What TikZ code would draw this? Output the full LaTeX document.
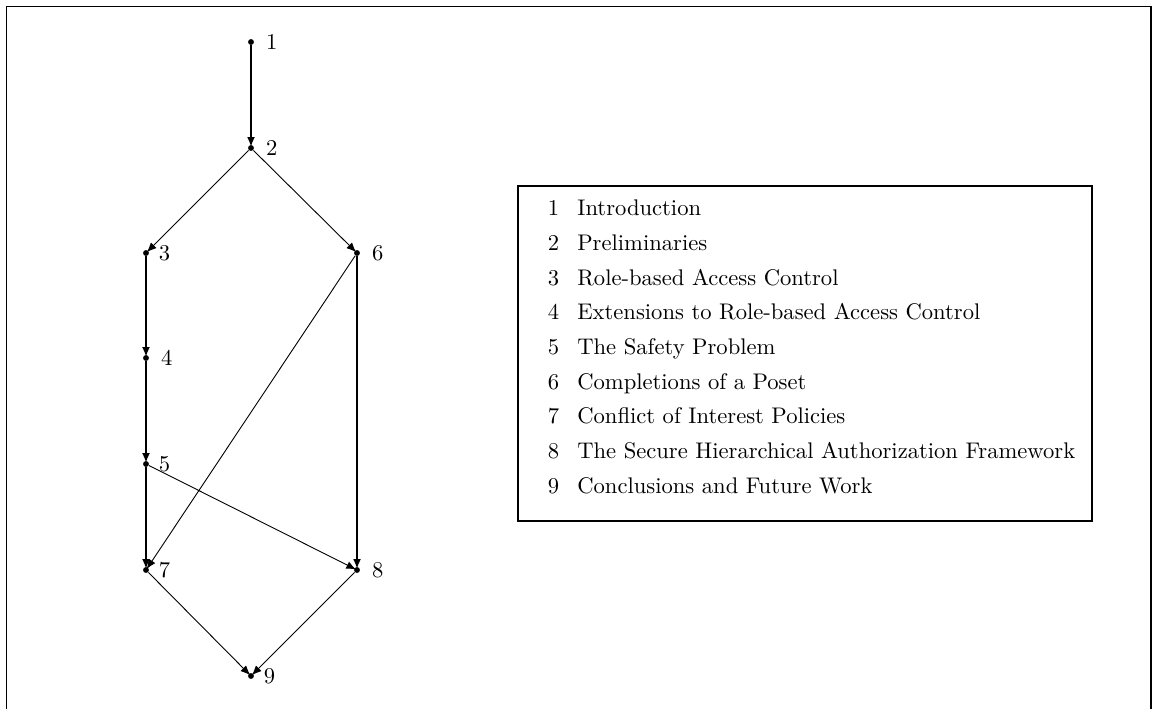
\documentclass[tikz,border=0pt]{standalone}
\usepackage{amsmath,amssymb}
\usepackage{xcolor}
\usepackage{tikz}
\usetikzlibrary{arrows.meta}

\tikzset{
  chapdot/.style={circle, fill=black, inner sep=0pt, minimum size=2.6pt},
  chaplabel/.style={right, inner sep=0pt, label distance=5pt},
  chaplabelnear/.style={chaplabel, label distance=4pt},
  dep/.style={-{Latex[length=4.3pt,width=3.5pt]}, thin, shorten >=-1pt},
  mainline/.style={dep, thick}
}

\begin{document}
\begin{tikzpicture}[x=0.4425pt, y=-0.4425pt]
            \useasboundingbox (0,0) rectangle (1154,709);
            \begin{scope}
            \clip (0,0) rectangle (1154,709);
            \draw[line width=0.8pt] (6.5,740) -- (6.5,6.5) -- (1151,6.5) -- (1151,740);
            \end{scope}
            \node[chapdot, label={[chaplabel]right:1}] (c1) at (251,42) {};
            \node[chapdot, label={[chaplabel]right:2}] (c2) at (251,148) {};
            \node[chapdot, label={[chaplabelnear]right:3}] (c3) at (146,253) {};
            \node[chapdot, label={[chaplabel]right:4}] (c4) at (146,358) {};
            \node[chapdot, label={[chaplabelnear]right:5}] (c5) at (146,464) {};
            \node[chapdot, label={[chaplabel]right:6}] (c6) at (357,253) {};
            \node[chapdot, label={[chaplabelnear]right:7}] (c7) at (146,570) {};
            \node[chapdot, label={[chaplabel]right:8}] (c8) at (357,570) {};
            \node[chapdot, label={[chaplabelnear]right:9}] (c9) at (251,676) {};
            \draw[mainline] (c1) -- (c2);
            \draw[dep] (c2) -- (c3);
            \draw[dep] (c2) -- (c6);
            \draw[mainline] (c3) -- (c4);
            \draw[mainline] (c4) -- (c5);
            \draw[mainline] (c5) -- (c7);
            \draw[mainline] (c6) -- (c8);
            \draw[dep] (c6) -- (c7);
            \draw[dep] (c5) -- (c8);
            \draw[dep] (c7) -- (c9);
            \draw[dep] (c8) -- (c9);
            \node[draw, line width=0.8pt, inner sep=0pt, anchor=north west] (legend) at (517,185) {%
              \renewcommand{\arraystretch}{1.28}%
              \begin{tabular}{@{\hspace{13.3pt}}l@{\hspace{8pt}}l@{\hspace{7.5pt}}}
              \rule{0pt}{13.2pt}1 & Introduction\\
              2 & Preliminaries\\
              3 & Role-based Access Control\\
              4 & Extensions to Role-based Access Control\\
              5 & The Safety Problem\\
              6 & Completions of a Poset\\
              7 & Conflict of Interest Policies\\
              8 & The Secure Hierarchical Authorization Framework\\
              9 & Conclusions and Future Work\\[7.5pt]
              \end{tabular}};
        \end{tikzpicture}
\end{document}
